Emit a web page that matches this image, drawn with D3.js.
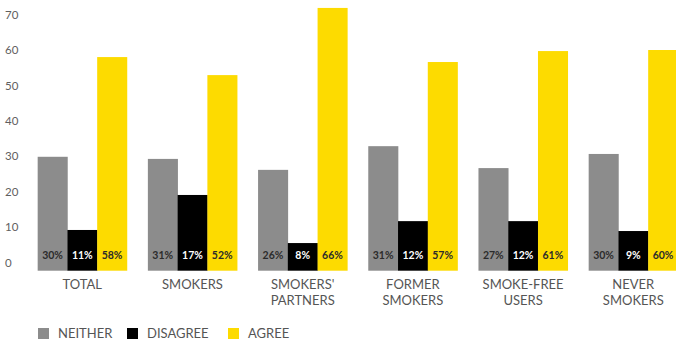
<!DOCTYPE html>
<html><head><meta charset="utf-8">
<script src="https://cdn.jsdelivr.net/npm/d3@7"></script>
<style>body{margin:0;background:#fff;} svg{display:block;font-family:Lato, "Open Sans", sans-serif;}</style>
</head><body>
<script>
const categories = ["TOTAL", "SMOKERS", "SMOKERS'\nPARTNERS", "FORMER\nSMOKERS", "SMOKE-FREE\nUSERS", "NEVER\nSMOKERS"];
const seriesNames = ["NEITHER", "DISAGREE", "AGREE"];
// bar heights as drawn in the picture
const neither  = [29.9, 29.3, 26.2, 32.9, 26.7, 30.7];
const disagree = [9.2, 19.1, 5.5, 11.7, 11.7, 8.9];
const agree    = [58.1, 53.0, 72.0, 56.7, 59.8, 60.1];
// printed labels
const neitherLabels  = ["30%", "31%", "26%", "31%", "27%", "30%"];
const disagreeLabels = ["11%", "17%", "8%", "12%", "12%", "9%"];
const agreeLabels    = ["58%", "52%", "66%", "57%", "61%", "60%"];
const yTicks = [0, 10, 20, 30, 40, 50, 60, 70];

const colors = ["#8c8c8c", "#000000", "#fddb00"];
const labelColors = ["#2b2b2b", "#ffffff", "#2b2b2b"];
const values = [neither, disagree, agree];
const labels = [neitherLabels, disagreeLabels, agreeLabels];

const W = 676, H = 342;
const svg = d3.select("body").append("svg").attr("width", W).attr("height", H);

const y = d3.scaleLinear().domain([0, 70]).range([262.5, 15]);
const baseY = y(0) + 8.2;
const x0 = d3.scaleBand().domain(categories).range([27.2, 27.2 + 6 * 110.2]).paddingInner(0.19).paddingOuter(0.095);
const x1 = d3.scaleBand().domain(seriesNames).range([0, x0.bandwidth()]).padding(0);

// y axis labels
svg.append("g").selectAll("text").data(yTicks).join("text")
  .attr("x", 5).attr("y", d => y(d)).attr("dy", "0.35em")
  .attr("font-size", 11.5).attr("fill", "#5f5f5f").text(d => d);

const groups = svg.append("g").selectAll("g").data(categories).join("g")
  .attr("transform", d => `translate(${x0(d)},0)`);

groups.each(function(cat, ci) {
  const g = d3.select(this);
  seriesNames.forEach((s, si) => {
    const v = values[si][ci];
    g.append("rect").attr("x", x1(s)).attr("width", x1.bandwidth() + 0.3)
      .attr("y", y(v)).attr("height", baseY - y(v)).attr("fill", colors[si]);
    g.append("text").attr("x", x1(s) + x1.bandwidth() / 2).attr("y", 255.7).attr("dy", "0.35em")
      .attr("text-anchor", "middle").attr("font-size", 10.5).attr("font-weight", "bold")
      .attr("fill", labelColors[si]).text(labels[si][ci]);
  });
  const lines = cat.split("\n");
  const t = g.append("text").attr("text-anchor", "middle").attr("font-size", 13).attr("fill", "#555");
  lines.forEach((ln, li) => {
    t.append("tspan").attr("x", x0.bandwidth() / 2).attr("y", 284 + li * 16).attr("dy", "0.35em").text(ln);
  });
});

// legend
const legendX = [38, 127, 228];
const leg = svg.append("g").selectAll("g").data(seriesNames).join("g")
  .attr("transform", (d, i) => `translate(${legendX[i]},328)`);
leg.append("rect").attr("width", 11).attr("height", 11).attr("fill", (d, i) => colors[i]);
leg.append("text").attr("x", 20).attr("y", 5.5).attr("dy", "0.35em").attr("font-size", 13)
  .attr("fill", "#555").text(d => d);
</script>
</body></html>
